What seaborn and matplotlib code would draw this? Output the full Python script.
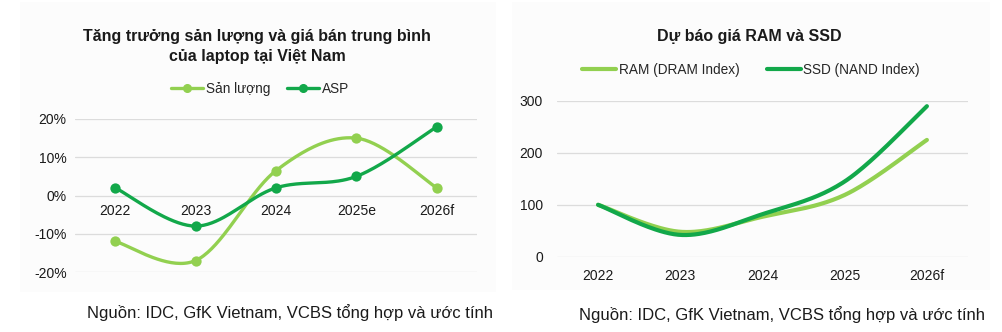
import numpy as np
import pandas as pd
import matplotlib
matplotlib.use("Agg")
import matplotlib.pyplot as plt
import seaborn as sns
from matplotlib.lines import Line2D
from matplotlib.patches import Rectangle

sns.set_theme(style="white")
plt.rcParams['font.family'] = ['Liberation Sans', 'DejaVu Sans']

# ---------------- data ----------------
left_categories = ["2022", "2023", "2024", "2025e", "2026f"]
san_luong = [-12, -17, 6.5, 15, 2]      # %
asp = [2, -8, 2, 5, 18]                  # %
left_yticks = [-20, -10, 0, 10, 20]

right_categories = ["2022", "2023", "2024", "2025", "2026f"]
ram = [100, 48, 77, 119, 225]
ssd = [100, 42, 82, 145, 290]
right_yticks = [0, 100, 200, 300]

LIGHT = "#92d050"
DARK = "#12a84a"
GRID = "#dcdcdc"
TXT = "#1a1a1a"


def smooth(y, n=40):
    """Catmull-Rom spline through the points (like Excel smoothed lines)."""
    x = np.arange(len(y), dtype=float)
    y = np.asarray(y, dtype=float)
    px = np.concatenate([[x[0]], x, [x[-1]]])
    py = np.concatenate([[y[0]], y, [y[-1]]])
    xs, ys = [], []
    for i in range(1, len(px) - 2):
        t = np.linspace(0, 1, n, endpoint=(i == len(px) - 3))
        for P, out in ((px, xs), (py, ys)):
            p0, p1, p2, p3 = P[i - 1], P[i], P[i + 1], P[i + 2]
            out.extend(0.5 * ((2 * p1) + (-p0 + p2) * t
                              + (2 * p0 - 5 * p1 + 4 * p2 - p3) * t ** 2
                              + (-p0 + 3 * p1 - 3 * p2 + p3) * t ** 3))
    return np.array(xs), np.array(ys)


W, H = 1003, 332
fig = plt.figure(figsize=(W / 100, H / 100), dpi=100)
fig.patch.set_facecolor("white")

# very faint chart-area backgrounds
fig.add_artist(Rectangle((20 / W, 1 - 292 / H), 476 / W, 290 / H,
                         transform=fig.transFigure, facecolor="#fcfcfc",
                         edgecolor="none", zorder=-5))
fig.add_artist(Rectangle((512 / W, 1 - 290 / H), 478 / W, 288 / H,
                         transform=fig.transFigure, facecolor="#fcfcfc",
                         edgecolor="none", zorder=-5))


def px_axes(x0, x1, ytop, ybot):
    return fig.add_axes([x0 / W, 1 - ybot / H, (x1 - x0) / W, (ybot - ytop) / H])


# ---------------- left chart ----------------
axL = px_axes(75, 477, 119, 272)
axL.set_facecolor("none")
for yv in left_yticks:
    axL.axhline(yv, color=GRID, lw=0.9, zorder=0)
for vals, col in ((san_luong, LIGHT), (asp, DARK)):
    sx, sy = smooth(vals)
    sns.lineplot(x=sx, y=sy, ax=axL, color=col, lw=2.4, sort=False,
                 estimator=None, zorder=2)
    sns.scatterplot(x=np.arange(len(vals)), y=vals, ax=axL, color=col,
                    s=55, edgecolor=col, linewidth=0, zorder=3)
axL.set_xlim(-0.5, len(left_categories) - 0.5)
axL.set_ylim(-20, 20)
axL.set_yticks(left_yticks)
axL.set_yticklabels([f"{v}%" for v in left_yticks], fontsize=10, color=TXT)
axL.set_xticks([])
axL.tick_params(axis="y", length=0, pad=6)
for s in axL.spines.values():
    s.set_visible(False)
for i, lab in enumerate(left_categories):
    axL.annotate(lab, xy=(i, 0), xytext=(0, -11), textcoords="offset points",
                 ha="center", va="center", fontsize=10, color=TXT)

fig.text(257 / W, 1 - 36 / H, "Tăng trưởng sản lượng và giá bán trung bình",
         ha="center", va="center", fontsize=11.5, fontweight="bold", color=TXT)
fig.text(257 / W, 1 - 56 / H, "của laptop tại Việt Nam",
         ha="center", va="center", fontsize=11.5, fontweight="bold", color=TXT)
hL = [Line2D([], [], color=LIGHT, lw=2.4, marker="o", ms=5.5),
      Line2D([], [], color=DARK, lw=2.4, marker="o", ms=5.5)]
fig.legend(hL, ["Sản lượng", "ASP"], loc="center", bbox_to_anchor=(260 / W, 1 - 89 / H),
           ncol=2, frameon=False, fontsize=9.8, handlelength=2.4, handletextpad=0.2,
           columnspacing=1.2)

fig.text(290.5 / W, 1 - 313 / H, "Nguồn: IDC, GfK Vietnam, VCBS tổng hợp và ước tính",
         ha="center", va="center", fontsize=12, color=TXT)

# ---------------- right chart ----------------
axR = px_axes(557, 968, 101, 256.7)
axR.set_facecolor("none")
for yv in right_yticks:
    axR.axhline(yv, color=GRID, lw=0.9, zorder=0)
for vals, col in ((ram, LIGHT), (ssd, DARK)):
    sx, sy = smooth(vals)
    sns.lineplot(x=sx, y=sy, ax=axR, color=col, lw=3.0, sort=False,
                 estimator=None, zorder=2)
axR.set_xlim(-0.5, len(right_categories) - 0.5)
axR.set_ylim(0, 300)
axR.set_yticks(right_yticks)
axR.set_yticklabels([str(v) for v in right_yticks], fontsize=10, color=TXT)
axR.set_xticks(range(len(right_categories)))
axR.set_xticklabels(right_categories, fontsize=10, color=TXT)
axR.tick_params(axis="both", length=0)
axR.tick_params(axis="y", pad=10)
axR.tick_params(axis="x", pad=9)
for s in axR.spines.values():
    s.set_visible(False)

fig.text(749 / W, 1 - 37 / H, "Dự báo giá RAM và SSD",
         ha="center", va="center", fontsize=11.5, fontweight="bold", color=TXT)
hR = [Line2D([], [], color=LIGHT, lw=3.0), Line2D([], [], color=DARK, lw=3.0)]
fig.legend(hR, ["RAM (DRAM Index)", "SSD (NAND Index)"], loc="center",
           bbox_to_anchor=(751 / W, 1 - 70 / H), ncol=2, frameon=False, fontsize=9.8,
           handlelength=2.5, handletextpad=0.2, columnspacing=2.0)

fig.text(782.5 / W, 1 - 315 / H, "Nguồn: IDC, GfK Vietnam, VCBS tổng hợp và ước tính",
         ha="center", va="center", fontsize=12, color=TXT)

fig.savefig("out.png", dpi=100, facecolor="white")
